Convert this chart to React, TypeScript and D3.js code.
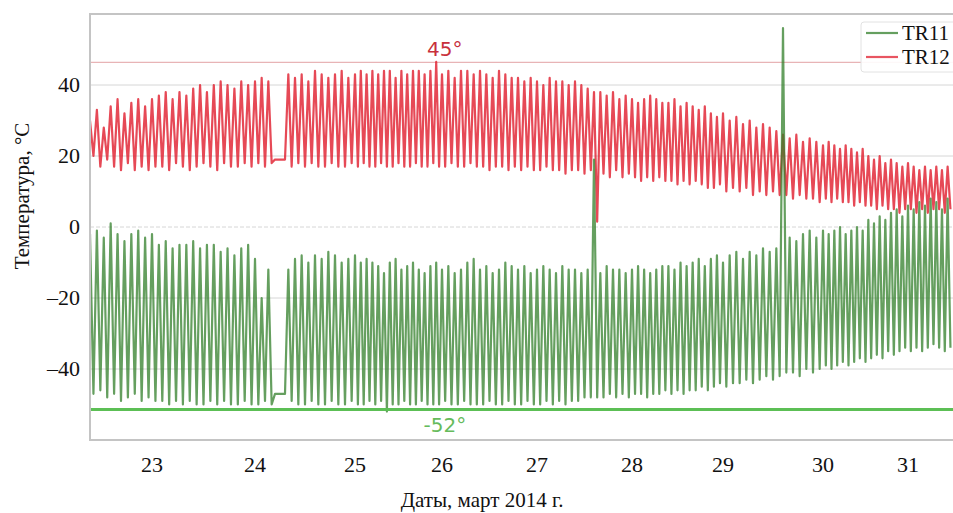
import * as React from "react"
import * as d3 from "d3"

// days of March 2014 on the x axis
const days = [23, 24, 25, 26, 27, 28, 29, 30, 31]
const yTicks = [40, 20, 0, -20, -40]

// one peak / trough per orbit (~15 orbits a day)
const startDay = 22.4
const orbitDays = 1 / 15

const tr12Hi = [
    30, 33, 28, 34, 36, 32, 35, 36, 34, 36,
    37, 38, 36, 38, 37, 39, 40, 38, 40, 41, 40, 39, 41, 40,
    41, 42, 41,
    19, 19,
    43, 42, 43, 41, 44, 43, 42, 43, 44, 42, 43, 44, 43,
    44, 43, 44, 44, 42, 44, 43, 44, 44, 43, 44, 46.5, 43, 44, 42, 44, 44, 43, 44, 43, 42, 44, 43, 42,
    42, 41, 42, 41, 40, 42, 41, 41, 40, 41, 40,
    39, 38, 38, 37, 38,
    36, 37, 36, 35, 36, 37, 36, 35,
    35, 36, 34, 35, 34, 33, 34,
    32, 31, 32, 30, 31, 29, 30, 28, 29, 28, 27,
    26, 25, 26, 24, 25, 24, 23, 24, 23, 22, 23, 22, 21, 22,
    20, 19, 20, 18, 19, 18, 17, 18, 17, 16, 17, 16, 17, 16, 17,
]
const tr12Lo = [
    20, 17, 19, 17, 16, 18, 16, 17, 16, 17,
    17, 16, 18, 17, 16, 17, 18, 17, 16, 18, 17, 17, 18, 17,
    18, 17, 18,
    19, 19,
    17, 18, 17, 18, 17, 17, 18, 17, 17, 18, 17, 18, 17,
    17, 18, 17, 17, 18, 17, 17, 18, 17, 17, 18, 17, 17, 18, 17, 17, 18, 17, 17, 16, 17, 17, 16, 17,
    16, 17, 16, 16, 17, 16, 16, 15, 16, 16, 15,
    16, 1.5, 15, 14, 16,
    14, 15, 14, 13, 14, 13, 14, 13,
    13, 12, 13, 12, 13, 12, 11,
    11, 12, 10, 11, 10, 11, 9, 10, 9, 10, 9,
    9, 8, 9, 8, 8, 7, 8, 7, 8, 7, 7, 6, 7, 6,
    6, 5, 6, 5, 5, 4, 5, 5, 4, 5, 4, 5, 5, 4, 5,
]
const tr11Hi = [
    -2, -1, -3, 1, -2, -4, -2, -1, -3, -2,
    -5, -4, -6, -5, -5, -4, -6, -5, -5, -7, -6, -8, -6, -5,
    -9, -20, -12,
    -47, -47,
    -12, -9, -8, -10, -8, -9, -7, -8, -10, -9, -8, -10, -9,
    -10, -11, -13, -10, -9, -12, -11, -10, -12, -13, -11, -10, -12, -11, -13, -12, -10, -9, -12, -11, -13, -12, -10, -11,
    -12, -11, -13, -12, -11, -12, -13, -11, -12, -12, -13,
    -12, 19, -13, -11, -12,
    -12, -13, -12, -11, -12, -13, -12, -11,
    -11, -12, -10, -11, -10, -9, -11,
    -9, -8, -10, -8, -7, -9, -7, -8, -6, -7, -6,
    56, -3, -4, -2, -1, -3, -1, -2, -1, 0, -2, -1, 0, -1,
    2, 1, 3, 2, 4, 5, 3, 6, 5, 7, 6, 8, 7, 5, 8,
]
const tr11Lo = [
    -47, -46, -48, -47, -49, -48, -47, -49, -48, -49,
    -49, -50, -49, -50, -49, -50, -50, -49, -50, -49, -50, -50, -49, -50,
    -50, -49, -50,
    -47, -47,
    -49, -50, -50, -49, -50, -50, -49, -50, -50, -49, -50, -50, -49,
    -50, -49, -52, -50, -50, -49, -50, -50, -49, -50, -50, -50, -49, -50, -50, -49, -50, -50, -50, -49, -50, -50, -49, -50,
    -50, -49, -50, -50, -49, -50, -49, -50, -49, -49, -48,
    -48, -48, -48, -47, -48,
    -47, -48, -47, -47, -48, -47, -47, -46,
    -47, -46, -47, -46, -46, -45, -46,
    -45, -44, -45, -44, -44, -43, -44, -43, -42, -43, -42,
    -41, -41, -42, -40, -41, -40, -39, -40, -39, -38, -39, -38, -37, -38,
    -37, -36, -37, -35, -36, -35, -34, -35, -34, -35, -34, -33, -34, -35, -34,
]

const limitValues = [46.4, -51.4]
const limitLabels = ["45°", "-52°"]
const seriesNames = ["TR11", "TR12"]

const toPoints = (hi: number[], lo: number[]) =>
    hi.flatMap((h, i) => [
        { t: startDay + i * orbitDays, v: h },
        { t: startDay + (i + 0.5) * orbitDays, v: lo[i] },
    ])

export default function App() {
    const [w, h] = [953, 513]
    const plot = { left: 90, right: 953, top: 14, bottom: 440 }

    // tick labels in the figure are not evenly spaced, so the scale follows them
    const xScale = d3
        .scaleLinear()
        .domain([startDay, ...days, 31.53])
        .range([90, 152, 255, 355, 442, 537, 632, 723, 823, 908, 953])

    const yScale = d3.scaleLinear().domain([-60, 60]).range([plot.bottom, plot.top])

    const line = d3
        .line<{ t: number; v: number }>()
        .x(d => xScale(d.t))
        .y(d => yScale(d.v))

    const green = "#317f2a"
    const red = "#e01c2c"
    const limitColors = ["#e8b4b6", "#5cbf55"]
    const limitText = ["#c8303b", "#66bb5c"]

    const serif = "'Liberation Serif', 'Times New Roman', serif"
    const sans = "'DejaVu Sans', 'Open Sans', sans-serif"

    return (
        <svg width={w} height={h} style={{ position: "absolute", left: 0, top: 0, background: "white" }}>
            <defs>
                <clipPath id="plot-clip">
                    <rect x={plot.left} y={plot.top} width={plot.right - plot.left} height={plot.bottom - plot.top} />
                </clipPath>
            </defs>

            {yTicks.map((d, i) => (
                <g key={i}>
                    <line
                        x1={plot.left}
                        x2={plot.right}
                        y1={yScale(d)}
                        y2={yScale(d)}
                        stroke="#d6d6d6"
                        strokeWidth={1}
                        strokeDasharray={d === 0 ? "4,2" : undefined}
                    />
                    <text x={80} y={yScale(d) + 7} fontSize={22} fontFamily={serif} textAnchor="end" fill="#111">
                        {d < 0 ? `–${Math.abs(d)}` : d}
                    </text>
                </g>
            ))}

            <line
                x1={plot.left}
                x2={plot.right}
                y1={yScale(limitValues[0])}
                y2={yScale(limitValues[0])}
                stroke={limitColors[0]}
                strokeWidth={1.2}
            />

            <g clipPath="url(#plot-clip)">
                <path d={line(toPoints(tr12Hi, tr12Lo)) ?? ""} fill="none" stroke={red} strokeWidth={2.2} strokeOpacity={0.8} strokeLinejoin="round" />
                <path d={line(toPoints(tr11Hi, tr11Lo)) ?? ""} fill="none" stroke={green} strokeWidth={2.2} strokeOpacity={0.75} strokeLinejoin="round" />
            </g>

            <line
                x1={plot.left}
                x2={plot.right}
                y1={yScale(limitValues[1])}
                y2={yScale(limitValues[1])}
                stroke={limitColors[1]}
                strokeWidth={3}
            />

            {limitLabels.map((d, i) => (
                <text
                    key={i}
                    x={xScale(26.03)}
                    y={i === 0 ? yScale(limitValues[i]) - 6 : yScale(limitValues[i]) + 23}
                    fontSize={20}
                    fontFamily={sans}
                    textAnchor="middle"
                    fill={limitText[i]}
                >
                    {d}
                </text>
            ))}

            {/* frame */}
            <path
                d={`M${plot.right + 5},${plot.top}H${plot.left}V${plot.bottom}H${plot.right + 5}`}
                fill="none"
                stroke="#c4c4c4"
                strokeWidth={2}
            />

            {/* legend */}
            <g transform="translate(861,22)">
                <rect x={0} y={0} width={110} height={50} rx={3} fill="white" fillOpacity={0.9} stroke="#e2e2e2" />
                {seriesNames.map((d, i) => (
                    <g key={i} transform={`translate(0,${11 + i * 24})`}>
                        <line x1={5} x2={37} y1={0} y2={0} stroke={i === 0 ? green : red} strokeOpacity={0.75} strokeWidth={2.2} />
                        <text x={41} y={7} fontSize={21} fontFamily={serif} fill="#111">
                            {d}
                        </text>
                    </g>
                ))}
            </g>

            {days.map((d, i) => (
                <text key={i} x={xScale(d)} y={472} fontSize={22} fontFamily={serif} textAnchor="middle" fill="#111">
                    {d}
                </text>
            ))}

            <text x={482} y={507} fontSize={21} fontFamily={serif} textAnchor="middle" fill="#111">
                Даты, март 2014 г.
            </text>
            <text
                transform="translate(29,196) rotate(-90)"
                fontSize={21}
                fontFamily={serif}
                textAnchor="middle"
                fill="#111"
            >
                Температура, °C
            </text>
        </svg>
    )
}
